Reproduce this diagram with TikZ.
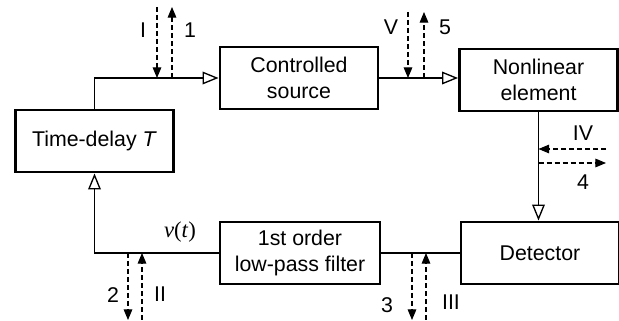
\documentclass[tikz,border=0pt]{standalone}
\usepackage{fontspec}
\setmainfont{Liberation Sans}
\newfontfamily\timesfont{Liberation Serif}
\usetikzlibrary{arrows.meta, calc}
\tikzset{
    block/.style={draw=black, line width=2.2pt, minimum width=118.5pt, minimum height=46.5pt, align=center, inner sep=0pt, font=\fontsize{16}{19.5}\selectfont},
    link/.style={draw=black, line width=1pt},
    feed/.style={link, -{Triangle[open, length=12pt, width=9.5pt, line width=1pt]}},
    probe/.style={draw=black, line width=0.8pt, dash pattern=on 3.75pt off 2.25pt, -{Triangle[length=8pt, width=6.5pt]}},
    tag/.style={font=\fontsize{16}{19.5}\selectfont, inner sep=0pt}
}
\begin{document}
\begin{tikzpicture}[x=0.75pt, y=-0.75pt]
    \useasboundingbox (0,0) rectangle (619,321);
    \node[block] (delay) at (94.5,141) {Time-delay \textit{T}};
    \node[block] (source) at (299,78) {Controlled\\source};
    \node[block] (nonlin) at (538.5,80) {Nonlinear\\element};
    \node[block] (detector) at (540,253) {Detector};
    \node[block, minimum width=120pt] (filter) at (300,253) {1st order\\low-pass filter};
    \draw[feed] (delay.north) |- (source.west);
    \draw[feed] (source.east) -- (source.east -| nonlin.west);
    \draw[feed] (nonlin.south) -- (nonlin.south |- detector.north);
    \draw[link] (detector.west) -- (filter.east);
    \draw[feed] (filter.west) -| (delay.south);
    \coordinate (topI) at (157,7);
    \coordinate (atI) at (157,0 |- source.west);
    \coordinate (top1) at (172,7);
    \coordinate (at1) at (172,0 |- source.west);
    \coordinate (topV) at (408,12);
    \coordinate (atV) at (408,0 |- source.east);
    \coordinate (top5) at (424,12);
    \coordinate (at5) at (424,0 |- source.east);
    \coordinate (endIV) at (606,149);
    \coordinate (atIV) at (nonlin.south |- 0,149);
    \coordinate (end4) at (606,163);
    \coordinate (at4) at (nonlin.south |- 0,163);
    \coordinate (bot2) at (128,320);
    \coordinate (at2) at (128,0 |- filter.west);
    \coordinate (botII) at (142,320);
    \coordinate (atII) at (142,0 |- filter.west);
    \coordinate (bot3) at (412,320);
    \coordinate (at3) at (412,0 |- filter.east);
    \coordinate (botIII) at (426,320);
    \coordinate (atIII) at (426,0 |- filter.east);
    \draw[probe] (topI) -- (atI);
    \draw[probe] (at1) -- (top1);
    \draw[probe] (topV) -- (atV);
    \draw[probe] (at5) -- (top5);
    \draw[probe] (endIV) -- (atIV);
    \draw[probe] (at4) -- (end4);
    \draw[probe] (at2) -- (bot2);
    \draw[probe] (botII) -- (atII);
    \draw[probe] (at3) -- (bot3);
    \draw[probe] (botIII) -- (atIII);
    \node[tag] (lI) at (143,30) {I};
    \node[tag] (l1) at (190,30) {1};
    \node[tag] (lV) at (391,27) {V};
    \node[tag] (l5) at (445,27) {5};
    \node[tag] (lIV) at (583,133) {IV};
    \node[tag] (l4) at (583,182) {4};
    \node[tag] (l2) at (113,295) {2};
    \node[tag] (lII) at (160,294) {II};
    \node[tag] (l3) at (387,305) {3};
    \node[tag] (lIII) at (451,302) {III};
    \node[tag, font=\fontsize{17}{20}\timesfont] (lv) at (180,232) {\textit{v}(\textit{t})};
\end{tikzpicture}
\end{document}
